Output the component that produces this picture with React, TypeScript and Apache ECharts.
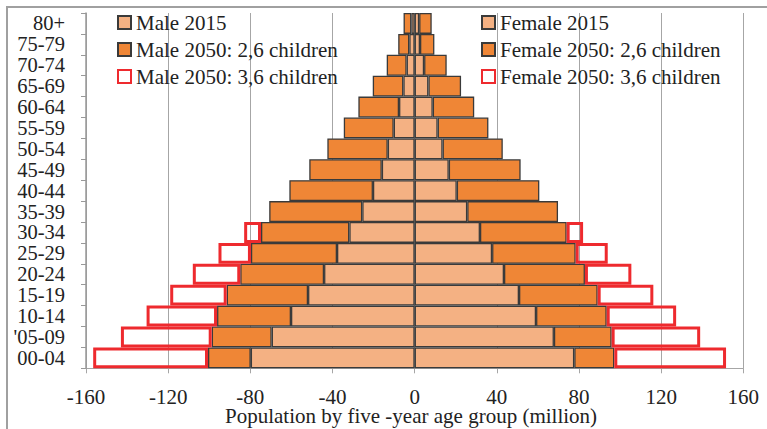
import React, { useEffect, useRef } from "react";
import * as echarts from "echarts";

const categories = ["80+", "75-79", "70-74", "65-69", "60-64", "55-59", "50-54", "45-49", "40-44", "35-39", "30-34", "25-29", "20-24", "15-19", "10-14", "'05-09", "00-04"];
const xTicks = [-160, -120, -80, -40, 0, 40, 80, 120, 160];
const xTitle = "Population by five -year age group (million)";

// population totals (million)
const male2015 = [1.6, 2.6, 3.9, 5.5, 7.6, 10.2, 13.1, 16.0, 20.3, 25.5, 31.8, 37.8, 44.1, 51.9, 60.2, 69.6, 79.8];
const male2050Low = [5.4, 8.0, 13.6, 20.4, 27.4, 34.5, 42.5, 51.3, 61.0, 70.8, 74.8, 79.7, 84.9, 91.5, 96.2, 98.8, 100.6];
const male2050High = [null, null, null, null, null, null, null, null, null, null, 83.0, 95.5, 108.0, 119.0, 130.5, 143.0, 156.5];
const female2015 = [2.2, 2.6, 4.6, 6.7, 8.8, 11.2, 13.6, 16.6, 20.5, 25.6, 31.8, 37.7, 43.5, 50.8, 59.1, 67.8, 77.7];
const female2050Low = [8.3, 9.6, 15.6, 22.6, 29.0, 35.9, 42.9, 51.6, 60.7, 69.8, 74.0, 78.4, 82.9, 89.1, 93.5, 95.9, 97.2];
const female2050High = [null, null, null, null, null, null, null, null, null, null, 82.0, 94.0, 105.5, 116.2, 127.3, 139.0, 151.6];

const names = {
  m15: "Male 2015",
  m26: "Male 2050: 2,6 children",
  m36: "Male 2050: 3,6 children",
  f15: "Female 2015",
  f26: "Female 2050: 2,6 children",
  f36: "Female 2050: 3,6 children",
};

const LIGHT = "#F4B183";
const ORANGE = "#EF8636";
const RED = "#EE2A2E";
const DARK = "#3a3a3a";
const GRID = "#A6A6A6";
const FONT = "'Liberation Serif', 'DejaVu Serif', serif";
const TXT = "#222";
const FS = 21;

// stacked segments built from the totals
const seg = (base: (number | null)[], top: (number | null)[], sign: number) =>
  top.map((t, i) => (t == null ? "-" : sign * ((t as number) - ((base[i] as number) || 0))));

export default function App() {
  const ref = useRef<HTMLDivElement>(null);
  useEffect(() => {
    if (!ref.current) return;
    const chart = echarts.init(ref.current, null, { renderer: "svg" });
    const solid = (color: string) => ({ color, borderColor: DARK, borderWidth: 1.3 });
    const outline = { color: "rgba(255,255,255,0)", borderColor: RED, borderWidth: 3 };
    const bar = (name: string, data: any[], itemStyle: any) => ({
      name,
      type: "bar",
      stack: "pop",
      yAxisIndex: 0,
      barCategoryGap: 0,
      barGap: "-100%",
      data,
      itemStyle,
      emphasis: { disabled: true },
    });
    const legendBase = {
      orient: "vertical",
      top: 7,
      itemWidth: 13,
      itemHeight: 13,
      itemGap: 6,
      icon: "rect",
      textStyle: { fontFamily: FONT, fontSize: FS, color: TXT },
    };
    chart.setOption({
      animation: false,
      textStyle: { fontFamily: FONT },
      grid: { left: 86, right: 23.7, top: 13, bottom: 60.7, containLabel: false, outerBoundsMode: "none" },
      legend: [
        { ...legendBase, left: 112, data: [names.m15, names.m26, names.m36] },
        { ...legendBase, left: 476, data: [names.f15, names.f26, names.f36] },
      ],
      graphic: [
        {
          type: "rect",
          z: -10,
          shape: { x: 7, y: 7, width: 900, height: 900 },
          style: { fill: "none", stroke: "#A0A0A0", lineWidth: 2 },
        },
        {
          type: "text",
          x: 411,
          y: 416,
          style: {
            text: xTitle,
            fontFamily: FONT,
            fontSize: FS,
            lineHeight: 18,
            fill: TXT,
            align: "center",
            verticalAlign: "middle",
          },
        },
      ],
      xAxis: {
        type: "value",
        min: -160,
        max: 160,
        interval: 40,
        axisLine: { show: true, lineStyle: { color: GRID } },
        axisTick: { show: true, length: 5, lineStyle: { color: GRID } },
        axisLabel: {
          fontFamily: FONT,
          fontSize: FS,
          lineHeight: 17,
          color: TXT,
          margin: 20,
          formatter: (v: number) => (xTicks.includes(v) ? String(v) : ""),
        },
        splitLine: { show: true, lineStyle: { color: GRID, width: 1 } },
      },
      yAxis: [
        {
          type: "category",
          data: categories,
          inverse: true,
          axisLine: { show: false },
          axisTick: { show: false },
          axisLabel: { fontFamily: FONT, fontSize: 20.5, lineHeight: 20, color: TXT, margin: 21, interval: 0 },
          splitLine: { show: false },
        },
        {
          type: "category",
          data: categories,
          inverse: true,
          position: "left",
          z: 10,
          axisLine: { show: true, onZero: true, lineStyle: { color: "#999", width: 1.5 } },
          axisTick: { show: true, length: 5, lineStyle: { color: "#999" } },
          axisLabel: { show: false },
          splitLine: { show: false },
        },
      ],
      series: [
        bar(names.m15, male2015.map((v) => -v), solid(LIGHT)),
        bar(names.m26, seg(male2015, male2050Low, -1), solid(ORANGE)),
        bar(names.m36, seg(male2050Low, male2050High, -1), outline),
        bar(names.f15, female2015, solid(LIGHT)),
        bar(names.f26, seg(female2015, female2050Low, 1), solid(ORANGE)),
        bar(names.f36, seg(female2050Low, female2050High, 1), outline),
      ],
    });
    return () => chart.dispose();
  }, []);
  return <div ref={ref} style={{ width: 767, height: 429, position: "absolute", left: 0, top: 0 }} />;
}
